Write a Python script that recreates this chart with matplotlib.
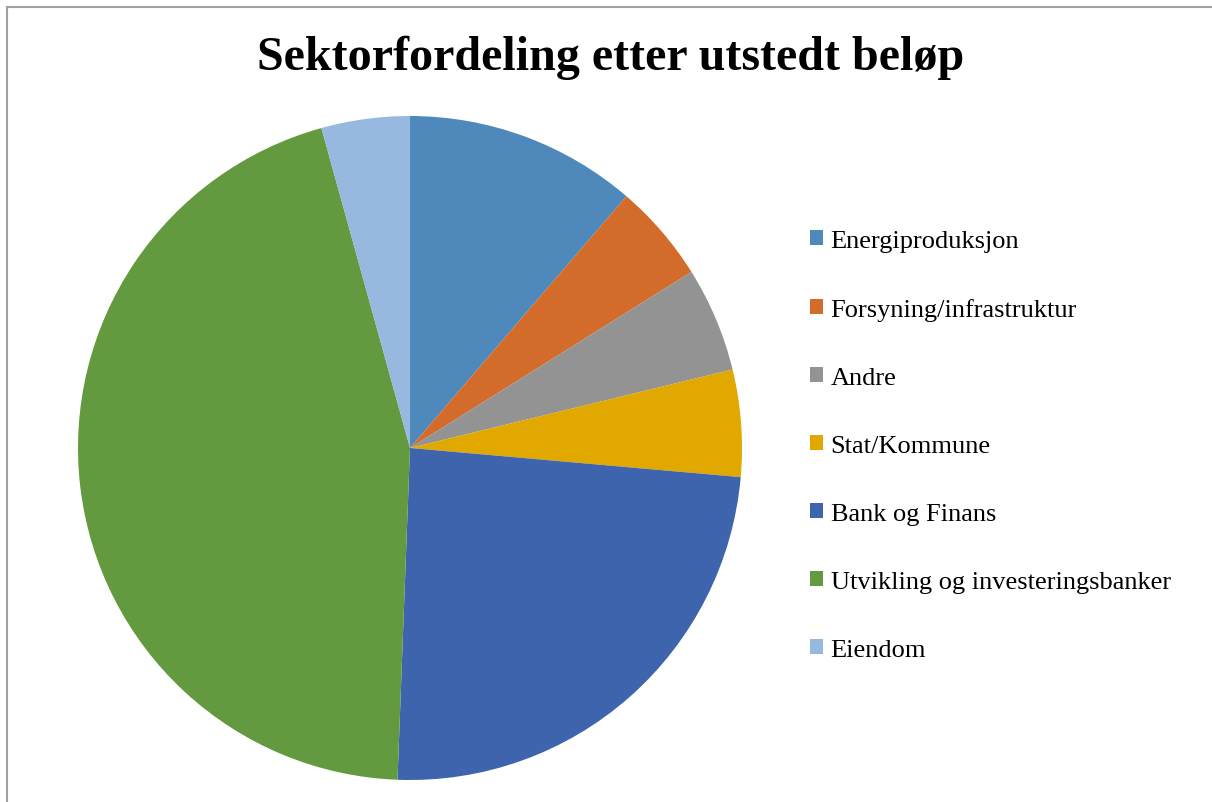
import matplotlib.pyplot as plt
from matplotlib.patches import Rectangle

sectors = ["Energiproduksjon", "Forsyning/infrastruktur", "Andre", "Stat/Kommune",
           "Bank og Finans", "Utvikling og investeringsbanker", "Eiendom"]
shares = [11.3, 4.8, 5.1, 5.2, 24.2, 45.1, 4.3]
colors = ["#4F89BC", "#D36B2A", "#939393", "#E1A800", "#3D64AD", "#639A3F", "#97B8DF"]

plt.rcParams['font.family'] = ['Liberation Serif', 'DejaVu Serif']

fig = plt.figure(figsize=(12.12, 8.03), dpi=100)

# chart border (cut off at right and bottom like the reference)
fig.patches.append(Rectangle((6.5 / 1212, -0.1), 1.2, (803 - 8) / 803 + 0.1,
                             transform=fig.transFigure, fill=False,
                             edgecolor="#A0A0A0", linewidth=1.5))

cx, cy, r = 410, 449, 332
ax = fig.add_axes([(cx - r) / 1212, (803 - cy - r) / 803, 2 * r / 1212, 2 * r / 803])
wedges, _ = ax.pie(shares, colors=colors, startangle=90, counterclock=False,
                   radius=1, wedgeprops=dict(linewidth=0))
ax.set_xlim(-1, 1)
ax.set_ylim(-1, 1)
ax.set_aspect("equal")

fig.text(611 / 1212, 1 - 58 / 803, "Sektorfordeling etter utstedt beløp",
         ha="center", va="center", fontsize=34.6, fontweight="bold")

fig.legend(wedges, sectors, loc="upper left", bbox_to_anchor=(810 / 1212, 1 - 231 / 803),
           frameon=False, fontsize=19, handlelength=0.5, handleheight=0.5,
           handletextpad=0.28, labelspacing=1.745, borderpad=0, borderaxespad=0)

fig.savefig("out.png", dpi=100)
